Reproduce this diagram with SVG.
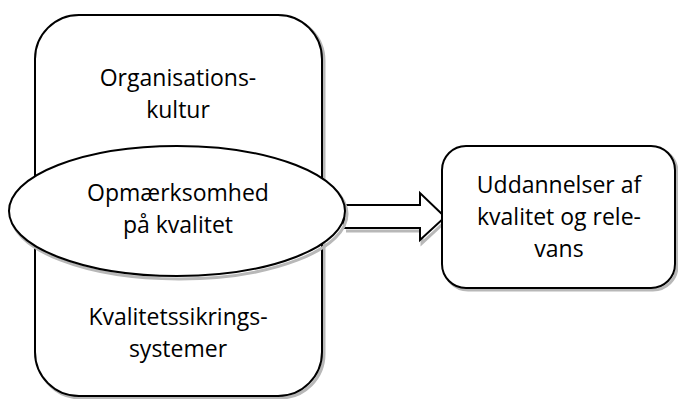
<svg xmlns="http://www.w3.org/2000/svg" width="678" height="399" viewBox="0 0 678 399">
<style>
.sh{fill:none;stroke:#b8b8b8;stroke-width:3}
.sf{fill:#fff;stroke:#000;stroke-width:2}
.t{font-family:"Open Sans","Liberation Sans",sans-serif;font-size:23px;fill:#000;text-anchor:middle}
</style>
<g id="outer">
<rect class="sh" x="37" y="17" width="287" height="381" rx="44" ry="44"/>
<rect class="sf" x="35" y="15" width="287" height="381" rx="44" ry="44"/>
<text class="t" x="178" y="86">Organisations-</text>
<text class="t" x="178" y="118">kultur</text>
<text class="t" x="178" y="325">Kvalitetssikrings-</text>
<text class="t" x="178" y="357">systemer</text>
</g>
<g id="connectors">
<path class="sh" d="M346,208 H422 V196 L447,220 L422,243 V231 H346"/>
<path class="sf" d="M344,205 H420 V193 L445,217 L420,240 V228 H344 Z"/>
</g>
<g id="ellipse">
<ellipse class="sh" cx="179" cy="214" rx="168" ry="65"/>
<ellipse class="sf" cx="177" cy="211" rx="168" ry="65"/>
<text class="t" x="178" y="201">Opmærksomhed</text>
<text class="t" x="178" y="233">på kvalitet</text>
</g>
<g id="result">
<rect class="sh" x="444" y="148" width="233" height="142" rx="24" ry="24"/>
<rect class="sf" x="442" y="146" width="233" height="142" rx="24" ry="24"/>
<text class="t" x="559" y="193">Uddannelser af</text>
<text class="t" x="559" y="225">kvalitet og rele-</text>
<text class="t" x="559" y="257">vans</text>
</g>
</svg>
